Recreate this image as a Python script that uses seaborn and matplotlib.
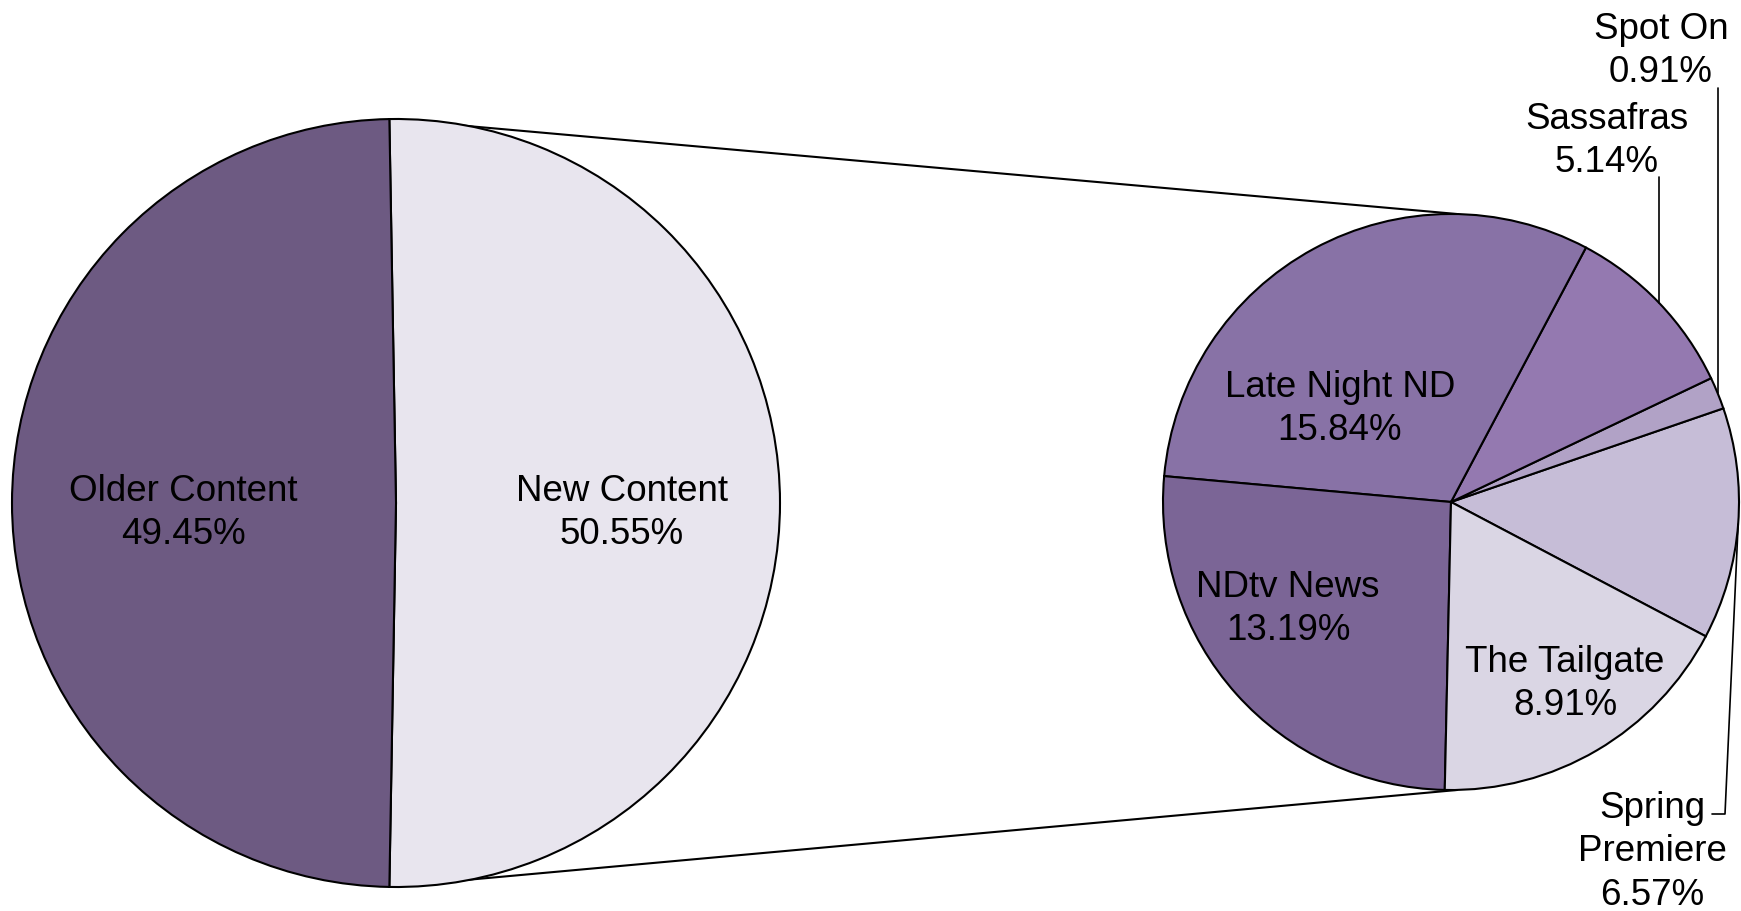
import numpy as np
import matplotlib
matplotlib.use("Agg")
import matplotlib.pyplot as plt
import seaborn as sns

# share of all views: split into new and older content
MAIN_LABELS = ["New Content", "Older Content"]
MAIN_VALUES = [50.55, 49.45]

# breakdown of the "New Content" slice, by show
SUB_LABELS = ["Spring\nPremiere", "Spot On", "Sassafras", "Late Night ND", "NDtv News", "The Tailgate"]
SUB_VALUES = [6.57, 0.91, 5.14, 15.84, 13.19, 8.91]

MAIN_COLORS = ["#e8e5ee", "#6d5a82"]
SUB_COLORS = ["#c6bdd7", "#b1a2c6", "#9479b0", "#8872a6", "#7b6596", "#dad6e4"]

# layout, in pixel units of the 1741x912 canvas (y up)
W, H = 1741, 912
MAIN_CENTER, MAIN_R = (396, 408), 384
SUB_CENTER, SUB_R = (1451, 409), 288
MAIN_LABEL_POS = [(622, 399), (183, 399)]
SUB_LABEL_POS = [(1652, 60), (1661, 861), (1607, 771), (1340, 503), (1288, 303), (1565, 228)]
FONT = 26.5
LSPACE = 1.32
EDGE = dict(edgecolor="black", linewidth=1.5)

sns.set_theme(style="white")
plt.rcParams["font.family"] = ["Liberation Sans", "DejaVu Sans"]

fig = plt.figure(figsize=(W / 100, H / 100), dpi=100)
ax = fig.add_axes([0, 0, 1, 1])

main_start = -MAIN_VALUES[0] / sum(MAIN_VALUES) * 180
main_wedges, _ = ax.pie(
    MAIN_VALUES, colors=MAIN_COLORS, startangle=main_start, counterclock=True,
    center=MAIN_CENTER, radius=MAIN_R, wedgeprops=EDGE,
)

sub_wedges, _ = ax.pie(
    SUB_VALUES, colors=SUB_COLORS, startangle=-27.8, counterclock=True,
    center=SUB_CENTER, radius=SUB_R, wedgeprops=EDGE,
)

# connector lines between the split slice and the secondary pie
nw = main_wedges[0]
for th, sy in [(nw.theta2, 1), (nw.theta1, -1)]:
    x0 = MAIN_CENTER[0] + MAIN_R * np.cos(np.radians(th))
    y0 = MAIN_CENTER[1] + MAIN_R * np.sin(np.radians(th))
    ax.plot([x0, SUB_CENTER[0] + 6], [y0, SUB_CENTER[1] + sy * SUB_R], color="black", lw=1.5, zorder=0)


def edge_point(w):
    mid = np.radians((w.theta1 + w.theta2) / 2)
    return SUB_CENTER[0] + SUB_R * np.cos(mid), SUB_CENTER[1] + SUB_R * np.sin(mid)


def put_label(pos, lab, val):
    ax.text(pos[0], pos[1], f"{lab}\n{val:.2f}%", ha="center", va="center", fontsize=FONT,
            color="black", multialignment="center", linespacing=LSPACE)


for i, (lab, val) in enumerate(zip(MAIN_LABELS, MAIN_VALUES)):
    put_label(MAIN_LABEL_POS[i], lab, val)
for i, (lab, val) in enumerate(zip(SUB_LABELS, SUB_VALUES)):
    put_label(SUB_LABEL_POS[i], lab, val)

# leader lines for the outside labels
ex, ey = edge_point(sub_wedges[1])  # Spot On
ax.plot([ex, ex], [H - 89, ey], color="black", lw=1.2)
ex, ey = edge_point(sub_wedges[2])  # Sassafras
ax.plot([ex, ex], [H - 178, ey], color="black", lw=1.2)
ex, ey = edge_point(sub_wedges[0])  # Spring Premiere
ax.plot([ex, 1725, 1712], [ey, H - 815, H - 815], color="black", lw=1.2)

ax.set_xlim(0, W)
ax.set_ylim(0, H)
ax.set_aspect("equal")
ax.axis("off")

fig.savefig("out.png", dpi=100, facecolor="white")
